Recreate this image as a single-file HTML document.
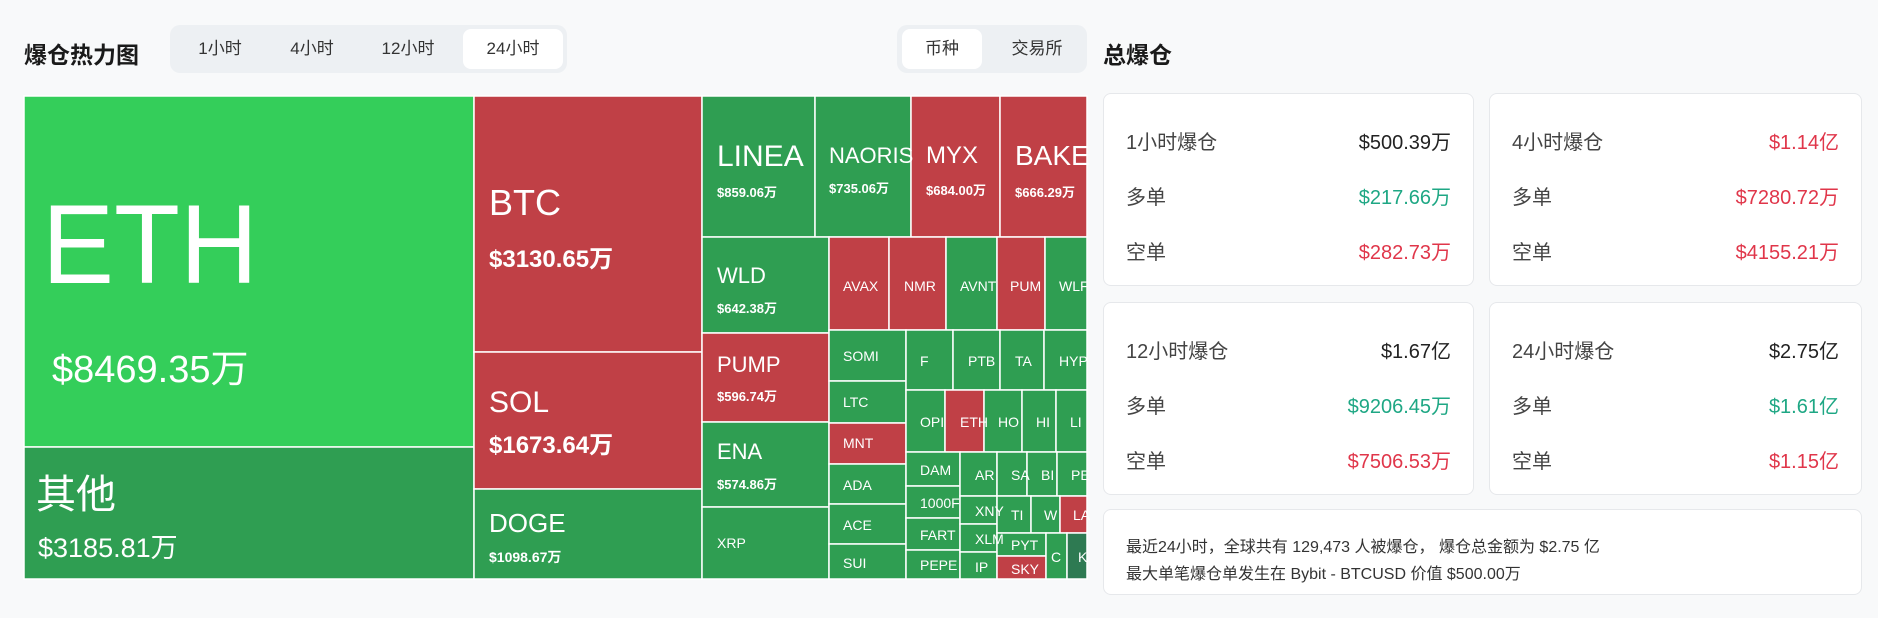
<!DOCTYPE html>
<html><head><meta charset="utf-8"><style>
*{margin:0;padding:0;box-sizing:border-box}
body{width:1878px;height:618px;background:#f8f9fa;font-family:"Liberation Sans","Noto Sans CJK SC",sans-serif;position:relative;overflow:hidden;color:#222}
.abs{position:absolute}
.h{font-weight:bold;font-size:23px;color:#1a1a1a}
.tabs{background:#edf0f3;border-radius:10px}
.tab{position:absolute;top:0;height:48px;line-height:48px;text-align:center;font-size:17px;color:#333}
.act{background:#fff;border-radius:8px;top:4px;height:40px;line-height:40px}
.card{position:absolute;background:#fff;border:1px solid #e6e8eb;border-radius:8px}
.row{position:absolute;left:22px;right:22px;font-size:20px;color:#444;display:flex;justify-content:space-between}
.row b{font-weight:normal;color:#222}
.g{color:#1ea784!important}.r{color:#e0364a!important}
svg text{font-family:"Liberation Sans","Noto Sans CJK SC",sans-serif;fill:#fff}
</style></head><body>
<div class="abs h" style="left:24px;top:36px">爆仓热力图</div>
<div class="abs tabs" style="left:170px;top:25px;width:397px;height:48px">
<div class="tab" style="left:5px;width:90px">1小时</div>
<div class="tab" style="left:97px;width:90px">4小时</div>
<div class="tab" style="left:193px;width:90px">12小时</div>
<div class="tab act" style="left:293px;width:100px">24小时</div>
</div>
<div class="abs tabs" style="left:897px;top:25px;width:190px;height:48px">
<div class="tab act" style="left:5px;width:80px">币种</div>
<div class="tab" style="left:95px;width:90px">交易所</div>
</div>
<div class="abs h" style="left:1103px;top:36px">总爆仓</div>

<svg class="abs" style="left:0;top:0" width="1100" height="618">
<g stroke="#fff" stroke-width="1.5">
<rect x="24" y="96" width="450" height="351" fill="#34ce5a"/>
<rect x="24" y="447" width="450" height="132" fill="#2f9e52"/>
<rect x="474" y="96" width="228" height="256" fill="#c04046"/>
<rect x="474" y="352" width="228" height="137" fill="#c04046"/>
<rect x="474" y="489" width="228" height="90" fill="#2f9e52"/>
<rect x="702" y="96" width="113" height="141" fill="#2f9e52"/>
<rect x="815" y="96" width="96" height="141" fill="#2f9e52"/>
<rect x="911" y="96" width="89" height="141" fill="#c04046"/>
<rect x="1000" y="96" width="87" height="141" fill="#c04046"/>
<rect x="702" y="237" width="127" height="96" fill="#2f9e52"/>
<rect x="702" y="333" width="127" height="89" fill="#c04046"/>
<rect x="702" y="422" width="127" height="85" fill="#2f9e52"/>
<rect x="702" y="507" width="127" height="72" fill="#2f9e52"/>
<rect x="829" y="237" width="60" height="93" fill="#c04046"/>
<rect x="889" y="237" width="57" height="93" fill="#c04046"/>
<rect x="946" y="237" width="51" height="93" fill="#2f9e52"/>
<rect x="997" y="237" width="48" height="93" fill="#c04046"/>
<rect x="1045" y="237" width="42" height="93" fill="#2f9e52"/>
<rect x="829" y="330" width="77" height="51" fill="#2f9e52"/>
<rect x="829" y="381" width="77" height="42" fill="#2f9e52"/>
<rect x="829" y="423" width="77" height="41" fill="#c04046"/>
<rect x="829" y="464" width="77" height="40" fill="#2f9e52"/>
<rect x="829" y="504" width="77" height="40" fill="#2f9e52"/>
<rect x="829" y="544" width="77" height="35" fill="#2f9e52"/>
<rect x="906" y="330" width="47" height="60" fill="#2f9e52"/>
<rect x="953" y="330" width="47" height="60" fill="#2f9e52"/>
<rect x="1000" y="330" width="44" height="60" fill="#2f9e52"/>
<rect x="1044" y="330" width="43" height="60" fill="#2f9e52"/>
<rect x="906" y="390" width="39" height="62" fill="#2f9e52"/>
<rect x="945" y="390" width="39" height="62" fill="#c04046"/>
<rect x="984" y="390" width="38" height="62" fill="#2f9e52"/>
<rect x="1022" y="390" width="34" height="62" fill="#2f9e52"/>
<rect x="1056" y="390" width="31" height="62" fill="#2f9e52"/>
<rect x="906" y="452" width="54" height="34" fill="#2f9e52"/>
<rect x="906" y="486" width="54" height="32" fill="#2f9e52"/>
<rect x="906" y="518" width="54" height="32" fill="#2f9e52"/>
<rect x="906" y="550" width="54" height="29" fill="#2f9e52"/>
<rect x="960" y="452" width="37" height="44" fill="#2f9e52"/>
<rect x="960" y="496" width="37" height="28" fill="#2f9e52"/>
<rect x="960" y="524" width="37" height="28" fill="#2f9e52"/>
<rect x="960" y="552" width="37" height="27" fill="#2f9e52"/>
<rect x="997" y="452" width="30" height="44" fill="#2f9e52"/>
<rect x="1027" y="452" width="30" height="44" fill="#2f9e52"/>
<rect x="1057" y="452" width="30" height="44" fill="#2f9e52"/>
<rect x="997" y="496" width="34" height="37" fill="#2f9e52"/>
<rect x="1031" y="496" width="29" height="37" fill="#2f9e52"/>
<rect x="1060" y="496" width="27" height="37" fill="#c04046"/>
<rect x="997" y="533" width="49" height="23" fill="#2f9e52"/>
<rect x="997" y="556" width="49" height="23" fill="#c04046"/>
<rect x="1046" y="533" width="21" height="46" fill="#2f9e52"/>
<rect x="1067" y="533" width="20" height="46" fill="#2e7a52"/>
</g>
<text x="42" y="283" font-size="112" textLength="216" lengthAdjust="spacingAndGlyphs">ETH</text>
<text x="52" y="382" font-size="38">$8469.35万</text>
<text x="36" y="508" font-size="40">其他</text>
<text x="38" y="557" font-size="27">$3185.81万</text>
<text x="489" y="215" font-size="36">BTC</text>
<text x="489" y="267" font-size="24" font-weight="bold">$3130.65万</text>
<text x="489" y="412" font-size="30">SOL</text>
<text x="489" y="453" font-size="24" font-weight="bold">$1673.64万</text>
<text x="489" y="532" font-size="26">DOGE</text>
<text x="489" y="562" font-size="14" font-weight="bold">$1098.67万</text>
<text x="717" y="166" font-size="30">LINEA</text>
<text x="717" y="197" font-size="13" font-weight="bold">$859.06万</text>
<text x="829" y="163" font-size="22">NAORIS</text>
<text x="829" y="193" font-size="13" font-weight="bold">$735.06万</text>
<text x="926" y="163" font-size="24">MYX</text>
<text x="926" y="195" font-size="13" font-weight="bold">$684.00万</text>
<text x="1015" y="165" font-size="28">BAKE</text>
<text x="1015" y="197" font-size="13" font-weight="bold">$666.29万</text>
<text x="717" y="283" font-size="22">WLD</text>
<text x="717" y="313" font-size="13" font-weight="bold">$642.38万</text>
<text x="717" y="372" font-size="22">PUMP</text>
<text x="717" y="401" font-size="13" font-weight="bold">$596.74万</text>
<text x="717" y="459" font-size="22">ENA</text>
<text x="717" y="489" font-size="13" font-weight="bold">$574.86万</text>
<text x="717" y="548" font-size="14">XRP</text>
<g font-size="14">
<text x="843" y="291">AVAX</text><text x="904" y="291">NMR</text><text x="960" y="291">AVNT</text><text x="1010" y="291">PUM</text><text x="1059" y="291">WLF</text>
<text x="843" y="361">SOMI</text><text x="843" y="407">LTC</text><text x="843" y="448">MNT</text><text x="843" y="490">ADA</text><text x="843" y="530">ACE</text><text x="843" y="568">SUI</text>
<text x="920" y="366">F</text><text x="968" y="366">PTB</text><text x="1015" y="366">TA</text><text x="1059" y="366">HYP</text>
<text x="920" y="427">OPI</text><text x="960" y="427">ETH</text><text x="998" y="427">HO</text><text x="1036" y="427">HI</text><text x="1070" y="427">LI</text>
<text x="920" y="475">DAM</text><text x="920" y="508">1000F</text><text x="920" y="540">FART</text><text x="920" y="570">PEPE</text>
<text x="975" y="480">AR</text><text x="975" y="516">XNY</text><text x="975" y="544">XLM</text><text x="975" y="572">IP</text>
<text x="1011" y="480">SA</text><text x="1041" y="480">BI</text><text x="1071" y="480">PE</text>
<text x="1011" y="520">TI</text><text x="1044" y="520">W</text><text x="1073" y="520">LA</text>
<text x="1011" y="550">PYT</text><text x="1011" y="574">SKY</text><text x="1051" y="562">C</text><text x="1078" y="562">K</text>
</g>
</svg>

<div class="card" style="left:1103px;top:93px;width:371px;height:193px">
<div class="row" style="top:32px"><span>1小时爆仓</span><b>$500.39万</b></div>
<div class="row" style="top:87px"><span>多单</span><b class="g">$217.66万</b></div>
<div class="row" style="top:142px"><span>空单</span><b class="r">$282.73万</b></div>
</div>
<div class="card" style="left:1489px;top:93px;width:373px;height:193px">
<div class="row" style="top:32px"><span>4小时爆仓</span><b class="r">$1.14亿</b></div>
<div class="row" style="top:87px"><span>多单</span><b class="r">$7280.72万</b></div>
<div class="row" style="top:142px"><span>空单</span><b class="r">$4155.21万</b></div>
</div>
<div class="card" style="left:1103px;top:302px;width:371px;height:193px">
<div class="row" style="top:32px"><span>12小时爆仓</span><b>$1.67亿</b></div>
<div class="row" style="top:87px"><span>多单</span><b class="g">$9206.45万</b></div>
<div class="row" style="top:142px"><span>空单</span><b class="r">$7506.53万</b></div>
</div>
<div class="card" style="left:1489px;top:302px;width:373px;height:193px">
<div class="row" style="top:32px"><span>24小时爆仓</span><b>$2.75亿</b></div>
<div class="row" style="top:87px"><span>多单</span><b class="g">$1.61亿</b></div>
<div class="row" style="top:142px"><span>空单</span><b class="r">$1.15亿</b></div>
</div>
<div class="card" style="left:1103px;top:509px;width:759px;height:86px;padding:24px 0 0 22px;font-size:16px;line-height:27px;color:#333">
最近24小时，全球共有 129,473 人被爆仓， 爆仓总金额为 $2.75 亿<br>最大单笔爆仓单发生在 Bybit - BTCUSD 价值 $500.00万
</div>
</body></html>
